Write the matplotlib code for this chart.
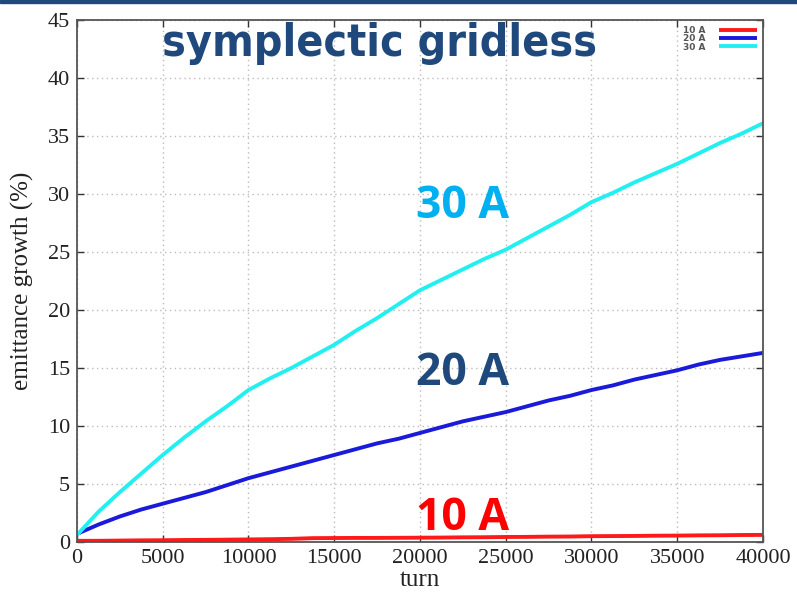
import matplotlib
matplotlib.use("Agg")
import matplotlib.pyplot as plt

# emittance growth (%) versus turn number for three beam currents
turns = [0, 1250, 2500, 3750, 5000, 6250, 7500, 8750, 10000, 11250, 12500,
         13750, 15000, 16250, 17500, 18750, 20000, 21250, 22500, 23750, 25000,
         26250, 27500, 28750, 30000, 31250, 32500, 33750, 35000, 36250, 37500,
         38750, 40000]

growth_10A = [0.1, 0.1, 0.12, 0.14, 0.15, 0.17, 0.18, 0.2, 0.22, 0.24, 0.27,
              0.33, 0.34, 0.35, 0.35, 0.36, 0.37, 0.38, 0.4, 0.41, 0.43,
              0.44, 0.46, 0.47, 0.5, 0.51, 0.52, 0.54, 0.55, 0.57, 0.58,
              0.6, 0.61]

growth_20A = [0.7, 1.5, 2.2, 2.8, 3.3, 3.8, 4.3, 4.9, 5.5, 6.0, 6.5,
              7.0, 7.5, 8.0, 8.5, 8.9, 9.4, 9.9, 10.4, 10.8, 11.2,
              11.7, 12.2, 12.6, 13.1, 13.5, 14.0, 14.4, 14.8, 15.3, 15.7,
              16.0, 16.3]

growth_30A = [0.6, 2.6, 4.3, 5.9, 7.5, 9.0, 10.4, 11.7, 13.1, 14.1, 15.0,
              16.0, 17.0, 18.2, 19.3, 20.5, 21.7, 22.6, 23.5, 24.4, 25.2,
              26.2, 27.2, 28.2, 29.3, 30.1, 31.0, 31.8, 32.6, 33.5, 34.4,
              35.2, 36.1]

series_labels = ["10 A", "20 A", "30 A"]
series_colors = ["#ff1a1a", "#1a1adb", "#22f0f0"]

x_ticks = [0, 5000, 10000, 15000, 20000, 25000, 30000, 35000, 40000]
y_ticks = [0, 5, 10, 15, 20, 25, 30, 35, 40, 45]

fig = plt.figure(figsize=(7.97, 5.92), dpi=100)
fig.patch.set_facecolor("white")
ax = fig.add_axes([0.0966, 0.0845, 0.8607, 0.8817])

for vals, lab, col in zip([growth_10A, growth_20A, growth_30A], series_labels, series_colors):
    ax.plot(turns, vals, color=col, lw=2.8, label=lab, solid_capstyle="butt")

ax.set_xlim(0, 40000)
ax.set_ylim(0, 45)
ax.set_xticks(x_ticks)
ax.set_yticks(y_ticks)
ax.set_xticklabels([str(t) for t in x_ticks], fontfamily="Liberation Serif", fontsize=16)
ax.set_yticklabels([str(t) for t in y_ticks], fontfamily="Liberation Serif", fontsize=16)
ax.tick_params(direction="in", length=5, width=1, colors="#333333", top=True, right=True,
               labelcolor="#222222", pad=5)
ax.grid(True, color="#bbbbbb", linestyle=(0, (1, 2.5)), linewidth=1)
for s in ax.spines.values():
    s.set_color("#555555")
    s.set_linewidth(1.3)

ax.set_xlabel("turn", fontfamily="Liberation Serif", fontsize=18, color="#222222", labelpad=1)
ax.set_ylabel("emittance growth (%)", fontfamily="Liberation Serif", fontsize=18,
              color="#222222", labelpad=10)

leg = ax.legend(loc="upper right", frameon=False, handlelength=4.2,
                handletextpad=1.5, markerfirst=False, labelspacing=-0.1,
                borderaxespad=0.3, prop={"weight": "bold", "size": 6.5})
for t in leg.get_texts():
    t.set_color("#555555")

ax.text(0.4416, 0.955, "symplectic gridless", transform=ax.transAxes, ha="center", va="center",
        fontsize=32, fontweight="bold", fontstretch="condensed", color="#1f497d",
        fontfamily="DejaVu Sans")
ax.text(22500, 28.9, "30 A", ha="center", va="center", fontsize=32, fontweight="bold",
        color="#00b0f0", fontfamily="Open Sans")
ax.text(22500, 14.5, "20 A", ha="center", va="center", fontsize=32, fontweight="bold",
        color="#1f497d", fontfamily="Open Sans")
ax.text(22500, 2.0, "10 A", ha="center", va="center", fontsize=32, fontweight="bold",
        color="#ff0000", fontfamily="Open Sans")

# header band along the top edge
fig.patches.append(plt.Rectangle((0, 0.995), 1, 0.005, transform=fig.transFigure,
                                 color="#1f497d", zorder=10))

fig.savefig("out.png", dpi=100)
